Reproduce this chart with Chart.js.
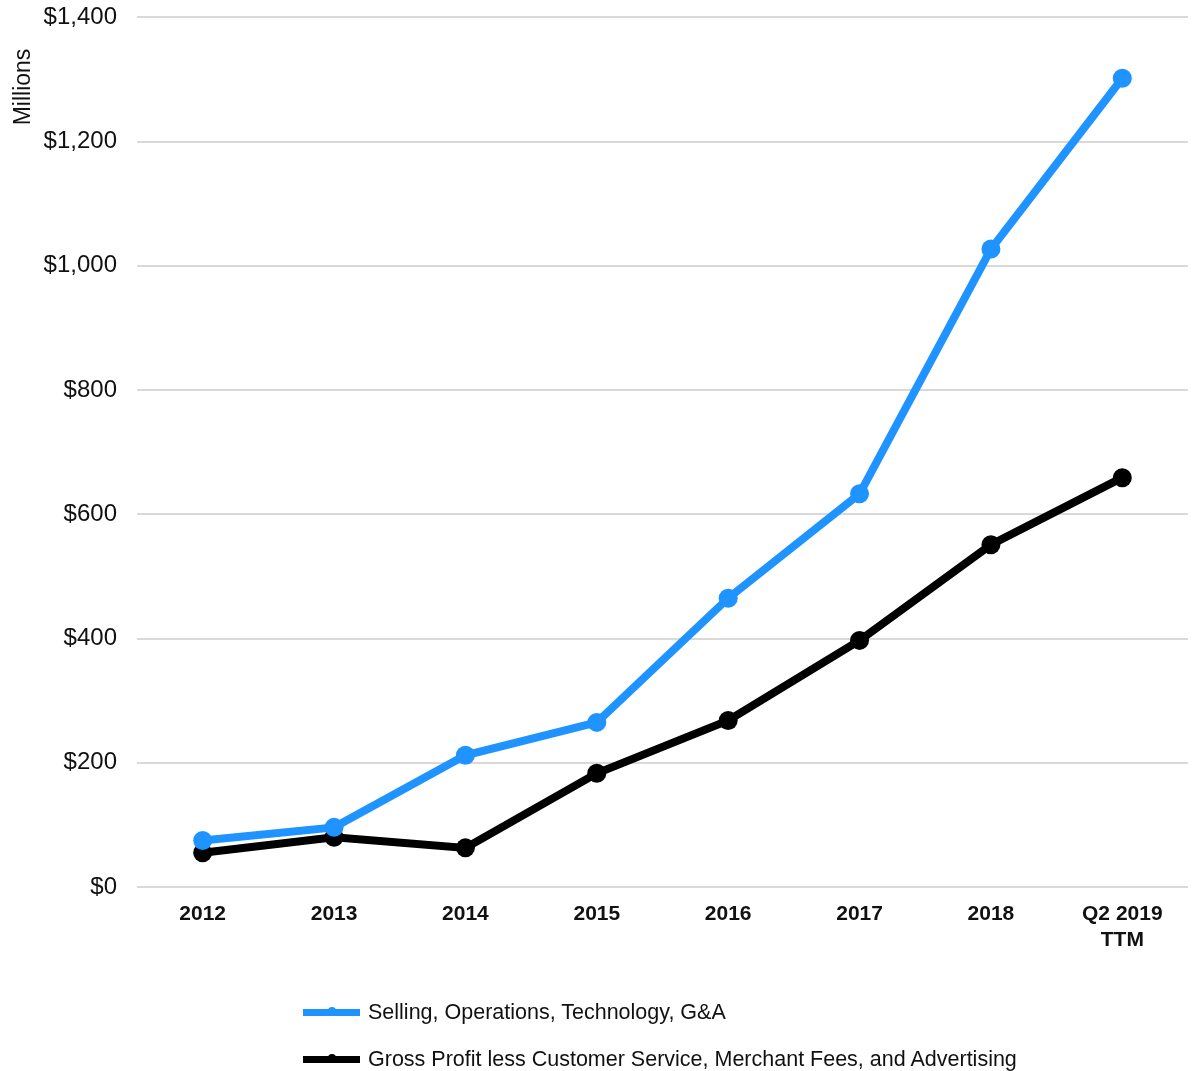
<!DOCTYPE html>
<html>
<head>
<meta charset="utf-8">
<script src="https://cdn.jsdelivr.net/npm/chart.js@4"></script>
<style>
  body { margin: 0; background: #fff; font-family: "Liberation Sans", Arial, sans-serif; }
  #wrap { position: relative; width: 1203px; height: 1071px; overflow: hidden; }
  #chart { position: absolute; left: 0; top: -17px; }
  #legend { position: absolute; left: 303px; top: 995px; }
  .item { display: flex; align-items: center; height: 34px; margin-bottom: 13px; font-size: 21.5px; color: #111; }
  .swatch { position: relative; width: 57px; height: 7px; margin-right: 8px; }
  .swatch i { position: absolute; left: 25px; top: -2px; width: 8px; height: 8px; border-radius: 50%; }
</style>
</head>
<body>
<div id="wrap">
  <canvas id="chart" width="1203" height="1088"></canvas>
  <div id="legend"></div>
</div>
<script>
// chart data
const categories = ['2012', '2013', '2014', '2015', '2016', '2017', '2018', ['Q2 2019', 'TTM']];
const sellingOps = [75, 96, 212, 265, 465, 633, 1027, 1302];
const grossProfitLess = [55, 80, 63, 183, 268, 397, 551, 659];
const seriesNames = ['Selling, Operations, Technology, G&A', 'Gross Profit less Customer Service, Merchant Fees, and Advertising'];
const seriesColors = ['#1f93ff', '#000000'];

const FONT = '"Liberation Sans", Arial, sans-serif';

// rotated "Millions" label near the top of the y axis
const axisTitle = {
  id: 'axisTitle',
  afterDraw(chart) {
    const ctx = chart.ctx;
    ctx.save();
    ctx.translate(24, 104);
    ctx.rotate(-Math.PI / 2);
    ctx.font = '23px ' + FONT;
    ctx.fillStyle = '#111';
    ctx.textAlign = 'center';
    ctx.textBaseline = 'middle';
    ctx.fillText('Millions', 0, 0);
    ctx.restore();
  }
};

const ds = (i, values) => ({
  label: seriesNames[i],
  data: values,
  borderColor: seriesColors[i],
  backgroundColor: seriesColors[i],
  borderWidth: 8,
  pointRadius: 9.5,
  pointHoverRadius: 9.5,
  pointBorderWidth: 0,
  tension: 0
});

const chart = new Chart(document.getElementById('chart'), {
  type: 'line',
  data: {
    labels: categories,
    datasets: [ds(0, sellingOps), ds(1, grossProfitLess)]
  },
  options: {
    responsive: false,
    animation: false,
    layout: { padding: { top: -11, right: 15, bottom: 114, left: 0 } },
    plugins: { legend: { display: false }, tooltip: { enabled: false } },
    scales: {
      x: {
        offset: true,
        grid: { display: false },
        border: { display: false },
        ticks: {
          color: '#111',
          padding: 7,
          maxRotation: 0,
          font: { family: FONT, size: 21, weight: 'bold' }
        },
        afterFit(scale) { scale.height = 70; }
      },
      y: {
        min: 0,
        max: 1400,
        grid: { color: '#d9d9d9', lineWidth: 2, drawTicks: false },
        border: { display: false },
        ticks: {
          stepSize: 200,
          color: '#111',
          padding: 20,
          font: { family: FONT, size: 24 },
          callback: v => '$' + v.toLocaleString('en-US')
        },
        afterFit(scale) { scale.width = 137; }
      }
    }
  },
  plugins: [axisTitle]
});

// legend, one series per row
document.getElementById('legend').innerHTML = chart.data.datasets.map(d => `
  <div class="item">
    <span class="swatch" style="background:${d.borderColor}"><i style="background:${d.borderColor}"></i></span>
    <span>${d.label}</span>
  </div>
`).join('');
</script>
</body>
</html>
